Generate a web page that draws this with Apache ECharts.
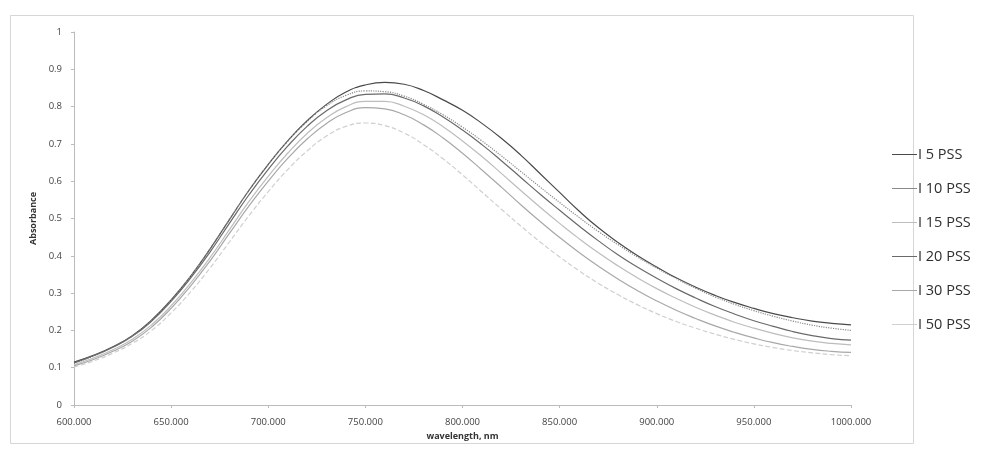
<!DOCTYPE html>
<html>
<head>
<meta charset="utf-8">
<script src="https://cdn.jsdelivr.net/npm/echarts@6/dist/echarts.min.js"></script>
<style>html,body{margin:0;padding:0;background:#fff}#c{width:983px;height:454px}</style>
</head>
<body>
<div id="c"></div>
<script>
const wavelengths = [600,610,620,630,640,650,660,670,680,690,700,710,720,730,740,750,760,770,780,790,800,810,820,830,840,850,860,870,880,890,900,910,920,930,940,950,960,970,980,990,1000];
const seriesNames = ['I 5 PSS','I 10 PSS','I 15 PSS','I 20 PSS','I 30 PSS','I 50 PSS'];
const pss5  = [0.115,0.133,0.156,0.186,0.228,0.282,0.345,0.418,0.497,0.575,0.645,0.708,0.762,0.806,0.839,0.858,0.865,0.860,0.843,0.818,0.790,0.755,0.715,0.670,0.620,0.570,0.520,0.475,0.436,0.401,0.370,0.341,0.316,0.294,0.275,0.259,0.245,0.234,0.225,0.219,0.215];
const pss10 = [0.112,0.131,0.155,0.185,0.227,0.281,0.345,0.418,0.497,0.575,0.645,0.707,0.760,0.802,0.830,0.842,0.840,0.828,0.806,0.778,0.745,0.708,0.668,0.626,0.584,0.543,0.503,0.465,0.430,0.397,0.367,0.339,0.313,0.290,0.270,0.253,0.238,0.225,0.214,0.206,0.200];
const pss15 = [0.108,0.126,0.148,0.176,0.215,0.266,0.327,0.395,0.470,0.545,0.613,0.675,0.728,0.770,0.800,0.814,0.814,0.801,0.778,0.746,0.708,0.666,0.621,0.575,0.530,0.487,0.446,0.408,0.373,0.341,0.312,0.286,0.262,0.241,0.222,0.206,0.192,0.180,0.171,0.165,0.161];
const pss20 = [0.113,0.132,0.155,0.184,0.225,0.278,0.340,0.410,0.487,0.563,0.632,0.694,0.747,0.789,0.818,0.833,0.834,0.823,0.802,0.772,0.737,0.698,0.655,0.610,0.565,0.522,0.480,0.440,0.403,0.370,0.340,0.312,0.287,0.264,0.244,0.226,0.211,0.197,0.186,0.178,0.174];
const pss30 = [0.105,0.122,0.144,0.171,0.209,0.259,0.319,0.386,0.460,0.533,0.600,0.661,0.713,0.755,0.784,0.797,0.794,0.778,0.751,0.716,0.675,0.630,0.584,0.537,0.492,0.449,0.409,0.372,0.338,0.307,0.279,0.254,0.232,0.212,0.195,0.180,0.167,0.157,0.149,0.144,0.141];
const pss50 = [0.102,0.118,0.139,0.165,0.200,0.247,0.303,0.367,0.437,0.507,0.572,0.631,0.681,0.721,0.747,0.756,0.749,0.729,0.698,0.660,0.617,0.571,0.525,0.480,0.437,0.397,0.360,0.326,0.296,0.269,0.245,0.224,0.206,0.190,0.176,0.164,0.154,0.146,0.140,0.135,0.132];
const yTicks = ['0','0.1','0.2','0.3','0.4','0.5','0.6','0.7','0.8','0.9','1'];

const allValues = [pss5, pss10, pss15, pss20, pss30, pss50];
const colors = ['#4a4a4a','#8a8a8a','#bdbdbd','#6a6a6a','#a8a8a8','#cfcfcf'];
const types = ['solid','dotted','solid','solid','solid','dashed'];

const chart = echarts.init(document.getElementById('c'));
chart.setOption({
  animation: false,
  backgroundColor: '#fff',
  graphic: [{
    type: 'rect', left: 8, top: 13,
    shape: {width: 903, height: 428},
    style: {fill: 'none', stroke: '#d6d6d6', lineWidth: 1},
    silent: true
  }],
  grid: {left: 74, right: 132, top: 32, bottom: 49},
  legend: {
    orient: 'vertical', left: 887, top: 142,
    itemWidth: 25, itemHeight: 14, itemGap: 19,
    icon: 'path://M0,6 L25,6 L25,7 L0,7 Z',
    textStyle: {fontFamily: 'Open Sans', fontSize: 14.5, color: '#2e2e2e', padding: [0,0,0,-4]},
    data: seriesNames
  },
  xAxis: {
    type: 'value', min: 600, max: 1000, interval: 50,
    name: 'wavelength, nm', nameLocation: 'middle', nameGap: 27,
    nameTextStyle: {fontFamily: 'Open Sans', fontSize: 9, fontWeight: 'bold', color: '#333'},
    axisLine: {lineStyle: {color: '#bbb'}},
    axisTick: {show: true, length: 3, lineStyle: {color: '#bbb'}},
    axisLabel: {fontFamily: 'Open Sans', fontSize: 9.5, color: '#444', margin: 12, formatter: v => v.toFixed(3)},
    splitLine: {show: false}
  },
  yAxis: {
    type: 'value', min: 0, max: 1, interval: 0.1,
    name: 'Absorbance', nameLocation: 'middle', nameGap: 36, nameRotate: 90,
    nameTextStyle: {fontFamily: 'Open Sans', fontSize: 9, fontWeight: 'bold', color: '#333'},
    axisLine: {show: true, lineStyle: {color: '#bbb'}},
    axisTick: {show: true, length: 3, lineStyle: {color: '#bbb'}},
    axisLabel: {fontFamily: 'Open Sans', fontSize: 9.5, color: '#444', margin: 12,
      formatter: (v) => yTicks[Math.round(v * 10)]},
    splitLine: {show: false}
  },
  series: seriesNames.map((n, i) => ({
    name: n, type: 'line', showSymbol: false, smooth: true,
    data: wavelengths.map((w, j) => [w, allValues[i][j]]),
    lineStyle: {color: colors[i], width: 1.2, type: types[i]},
    itemStyle: {color: colors[i]}
  }))
});
</script>
</body>
</html>
